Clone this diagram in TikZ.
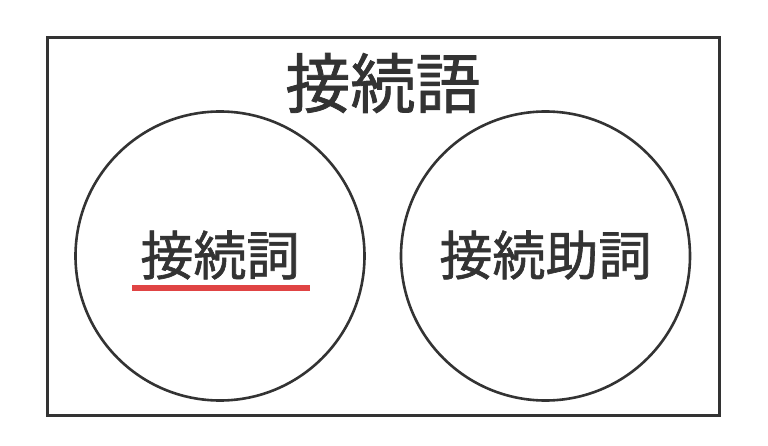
\documentclass[tikz,border=0pt]{standalone}
\usepackage{fontspec}
\newfontfamily\jp{Noto Sans CJK JP}[FakeBold=1.2]
\definecolor{ink}{HTML}{333333}
\definecolor{redline}{HTML}{E04444}
\begin{document}
\begin{tikzpicture}[x=1pt,y=-1pt,
  frame/.style={draw=ink,line width=3pt},
  ring/.style={draw=ink,line width=2.6pt,circle,minimum size=289pt,inner sep=0pt},
  lbl/.style={text=ink,font=\jp\fontsize{53}{60}\selectfont,inner sep=0pt},
  ttl/.style={text=ink,font=\jp\fontsize{65}{72}\selectfont,inner sep=0pt}]
\useasboundingbox (0,0) rectangle (768,446);
\fill[white] (0,0) rectangle (768,446);
\node[frame,minimum width=672pt,minimum height=377pt,inner sep=0pt] (box) at (383,226.5) {};
\node[ttl] (title) at (383,83) {接続語};
\node[ring] (c1) at (220,256) {};
\node[ring] (c2) at (545.5,256) {};
\node[lbl] (t1) at (220,255) {接続詞};
\node[lbl] (t2) at (545.5,255) {接続助詞};
\coordinate (u1) at (132,288);
\coordinate (u2) at (310,288);
\draw[draw=redline,line width=5.5pt] (u1) -- (u2);
\end{tikzpicture}
\end{document}
